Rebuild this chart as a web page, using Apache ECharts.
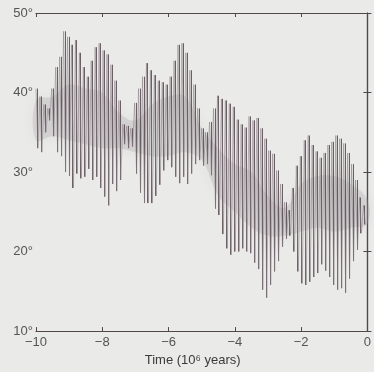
<!DOCTYPE html>
<html>
<head>
<meta charset="utf-8">
<script src="https://cdn.jsdelivr.net/npm/echarts@6/dist/echarts.min.js"></script>
<style>
  html, body { margin: 0; padding: 0; background: #eaeae8; }
  #chart { width: 374px; height: 372px; }
</style>
</head>
<body>
<div id="chart"></div>
<script>
// Obliquity swings over the last 10 million years: one high and one low per ~120 kyr cycle
const cycleHighs = [
  40.5, 39.5, 38.5, 38.0, 40.5, 43.2, 44.5, 47.7, 47.0, 46.0,
  46.6, 45.0, 43.2, 42.0, 44.0, 45.7, 46.2, 45.3, 44.8, 43.5,
  41.5, 39.0, 36.0, 35.8, 35.5, 38.7, 40.5, 42.0, 43.7, 42.8,
  42.2, 41.5, 41.3, 41.0, 42.0, 44.0, 46.0, 46.2, 45.0, 42.8,
  41.0, 38.0, 35.5, 35.0, 36.3, 38.0, 39.6, 39.2, 39.0, 38.6,
  38.2, 36.6, 36.0, 35.6, 37.0, 36.5, 36.8, 35.5, 34.2, 32.7,
  32.3, 30.2, 28.5, 26.2, 25.2, 28.0, 30.8, 32.0, 34.0, 34.6,
  33.4, 32.6, 31.8, 32.4, 33.4, 33.8, 34.6, 34.2, 33.6, 32.4,
  31.0, 29.0, 26.8, 25.8
];
const cycleLows = [
  33.0, 32.5, 35.0, 36.5, 34.5, 32.5, 32.0, 30.0, 29.5, 28.0,
  29.8, 29.2, 29.4, 30.4, 29.0, 29.4, 28.0, 26.9, 25.8, 28.5,
  27.6, 29.0, 33.5, 33.0, 33.2, 29.8, 27.4, 26.1, 26.1, 26.1,
  27.0, 28.4, 30.2, 31.5, 30.6, 29.4, 28.6, 29.4, 28.5, 29.8,
  31.0, 31.5, 30.8, 31.0, 29.6, 25.4, 24.6, 22.2, 20.4, 19.6,
  20.0, 20.0, 20.4, 20.0, 19.8, 18.6, 17.8, 15.2, 14.2, 15.8,
  17.5, 18.8, 20.6, 21.6, 22.0, 20.0, 17.5, 16.0, 15.8, 16.2,
  16.8, 17.3, 18.4, 17.6, 16.8, 15.8, 15.2, 15.4, 14.8, 16.6,
  18.8, 20.2, 22.3, 23.4
];

// Where the trace is densest (mean obliquity band), sampled every 0.5 Myr
const bandTimes = [-10, -9.5, -9, -8.5, -8, -7.5, -7, -6.5, -6, -5.5, -5,
                   -4.5, -4, -3.5, -3, -2.5, -2, -1.5, -1, -0.5, 0];
const bandLow  = [34, 34.5, 34, 33.5, 33, 33, 32.5, 32, 32, 32.5, 31.5,
                  27, 25, 23, 22, 22, 22.5, 23, 22.5, 23, 23.5];
const bandHigh = [39, 39.5, 41, 40.5, 40, 37.5, 36.5, 38.5, 39.5, 39.5, 35.5,
                  33, 31, 30, 27, 25.5, 28.5, 29.5, 29.5, 28.5, 26.5];

const xTicks = [-10, -8, -6, -4, -2, 0];
const yTicks = [10, 20, 30, 40, 50];

const period = 10 / cycleHighs.length;
const trace = [];
const swings = [];
cycleHighs.forEach((hi, i) => {
  const t = -10 + i * period;
  trace.push([t, hi]);
  trace.push([t + 0.5 * period, cycleLows[i]]);
  swings.push([t + 0.25 * period, cycleLows[i], hi]);
});
const band = bandTimes.map((t, i) => [t, bandLow[i], bandHigh[i]]);

const ink = '#54464d';
const labelFont = { fontFamily: 'Liberation Sans, Arial, sans-serif', fontSize: 13, color: '#555555' };

const frameAxis = {
  axisLine: { show: true, lineStyle: { color: ink, width: 1.2 } },
  axisTick: { show: true, inside: true, length: 4, lineStyle: { color: ink, width: 1 } },
  splitLine: { show: false }
};

const chart = echarts.init(document.getElementById('chart'), null, { renderer: 'canvas' });
chart.setOption({
  backgroundColor: '#eaeae8',
  animation: false,
  grid: { left: 36, right: 4, top: 13, bottom: 39 },
  xAxis: [
    Object.assign({
      type: 'value', min: -10, max: 0, interval: 2, position: 'bottom',
      name: 'Time (10\u2076 years)', nameLocation: 'middle', nameGap: 21,
      nameTextStyle: { fontFamily: 'Liberation Sans, Arial, sans-serif', fontSize: 13, color: '#3a3a3a', padding: [0, 18, 0, 0] },
      axisLabel: Object.assign({ margin: 5, formatter: v => v < 0 ? '\u2212' + Math.abs(v) : String(v) }, labelFont)
    }, frameAxis),
    Object.assign({
      type: 'value', min: -10, max: 0, interval: 2, position: 'top',
      axisLabel: { show: false }
    }, frameAxis)
  ],
  yAxis: [
    Object.assign({
      type: 'value', min: 10, max: 50, interval: 10, position: 'left',
      axisLabel: Object.assign({ margin: 3, formatter: v => v + '\u00b0' }, labelFont)
    }, frameAxis),
    Object.assign({
      type: 'value', min: 10, max: 50, interval: 10, position: 'right',
      axisLabel: { show: false }
    }, frameAxis)
  ],
  series: [
    {
      // soft grey cloud along the mean obliquity
      type: 'custom', silent: true, data: [0],
      renderItem: (params, api) => {
        const upper = band.map(d => api.coord([d[0], d[2]]));
        const lower = band.map(d => api.coord([d[0], d[1]])).reverse();
        return {
          type: 'polygon',
          shape: { points: upper.concat(lower), smooth: 0.4 },
          style: { fill: 'rgba(165,160,163,0.26)', shadowBlur: 12, shadowColor: 'rgba(165,160,163,0.5)' }
        };
      }
    },
    {
      // the continuous curve, faint, gives the speckled middle
      type: 'line', data: trace, symbol: 'none', smooth: false, sampling: null,
      lineStyle: { color: '#857a81', width: 0.8, opacity: 0.65 }, silent: true
    },
    {
      // one stroke per cycle from its low to its high
      type: 'custom', silent: true, data: swings,
      renderItem: (params, api) => {
        const a = api.coord([api.value(0), api.value(1)]);
        const b = api.coord([api.value(0), api.value(2)]);
        const x = Math.round(a[0]) + 0.5;
        return {
          type: 'line',
          shape: { x1: x, y1: a[1], x2: x, y2: b[1] },
          style: { stroke: ink, lineWidth: 1, opacity: 0.85 }
        };
      }
    }
  ]
});
</script>
</body>
</html>
